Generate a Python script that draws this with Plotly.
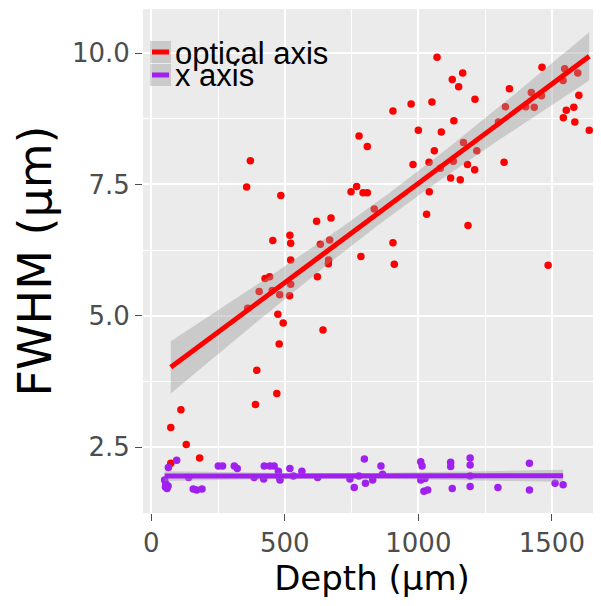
import numpy as np
import plotly.graph_objects as go

# ---------------- data ----------------
optical_depth = [73, 73, 111, 131, 181, 357, 371, 361, 390, 395, 404, 426, 443, 453, 455,
                 470, 474, 479, 481, 485, 494, 518, 519, 522, 522, 522, 619, 622, 633, 643,
                 663, 664, 668, 673, 748, 769, 778, 785, 793, 809, 809, 835, 905, 905, 910,
                 973, 980, 1000, 1031, 1040, 1041, 1051, 1060, 1070, 1082, 1086, 1121, 1127,
                 1131, 1133, 1151, 1157, 1166, 1169, 1184, 1186, 1211, 1212, 1219, 1300, 1321,
                 1326, 1341, 1402, 1423, 1434, 1461, 1463, 1486, 1542, 1543, 1548, 1554, 1582,
                 1586, 1597, 1601, 1640]
optical_fwhm = [2.87, 2.19, 3.21, 2.55, 2.29, 7.45, 7.95, 5.14, 3.31, 3.96, 5.46, 5.71, 5.74,
                5.48, 6.43, 3.52, 5.03, 4.46, 5.40, 7.29, 4.86, 5.38, 6.53, 6.38, 6.06, 5.60,
                6.80, 5.74, 6.36, 4.73, 5.99, 6.06, 6.44, 6.86, 7.36, 7.46, 8.42, 6.13, 7.34,
                7.34, 8.22, 7.03, 8.90, 6.39, 5.98, 9.03, 7.88, 8.53, 6.93, 7.92, 7.36, 9.07,
                8.14, 9.92, 7.81, 8.50, 7.62, 9.50, 7.94, 8.71, 9.36, 7.59, 9.62, 8.30, 7.88,
                6.72, 7.78, 9.12, 8.14, 8.69, 7.92, 8.98, 9.32, 8.98, 9.25, 8.97, 9.19, 9.73,
                5.96, 9.48, 8.77, 9.70, 8.91, 8.97, 8.69, 9.62, 9.20, 8.53]

xaxis_depth = [50, 54, 59, 63, 53, 64, 95, 140, 157, 170, 190, 251, 267, 311, 322, 385, 421,
               423, 444, 460, 476, 479, 482, 519, 532, 564, 623, 744, 760, 777, 798, 802, 829,
               860, 866, 1009, 1014, 1009, 1025, 1021, 1035, 1121, 1121, 1127, 1194, 1194,
               1194, 1194, 1298, 1416, 1416, 1512, 1542]
xaxis_fwhm = [1.87, 1.80, 1.71, 1.76, 1.74, 2.11, 2.25, 1.92, 1.70, 1.68, 1.70, 2.14, 2.14,
              2.14, 2.09, 1.92, 1.89, 2.14, 2.14, 2.14, 2.04, 1.93, 1.87, 2.09, 1.95, 2.04,
              1.92, 1.89, 1.73, 1.95, 2.27, 1.81, 1.87, 2.14, 1.98, 2.22, 2.14, 1.87, 1.90,
              1.66, 1.68, 2.21, 2.13, 1.71, 2.29, 2.16, 1.95, 1.75, 1.73, 2.19, 1.68, 1.81,
              1.78]

series_names = ["optical axis", "x axis"]
series_colors = ["#FF0000", "#A020F0"]

x_tick_vals = [0, 500, 1000, 1500]
x_tick_text = ["0", "500", "1000", "1500"]
y_tick_vals = [2.5, 5.0, 7.5, 10.0]
y_tick_text = ["2.5", "5.0", "7.5", "10.0"]


def lm_smooth(x, y, t_crit, n_grid=80):
    """Linear model fit with 95% confidence band (like ggplot's geom_smooth(method='lm'))."""
    x = np.asarray(x, float)
    y = np.asarray(y, float)
    n = len(x)
    slope, intercept = np.polyfit(x, y, 1)
    resid = y - (intercept + slope * x)
    s = np.sqrt(np.sum(resid ** 2) / (n - 2))
    xbar = x.mean()
    sxx = np.sum((x - xbar) ** 2)
    xs = np.linspace(x.min(), x.max(), n_grid)
    fit = intercept + slope * xs
    se = s * np.sqrt(1.0 / n + (xs - xbar) ** 2 / sxx)
    return xs, fit, fit - t_crit * se, fit + t_crit * se


fig = go.Figure()

datasets = [(optical_depth, optical_fwhm, 1.99), (xaxis_depth, xaxis_fwhm, 2.01)]

# points first
for (xd, yd, _), name, col in zip(datasets, series_names, series_colors):
    fig.add_trace(go.Scatter(x=xd, y=yd, mode="markers", name=name,
                             marker=dict(color=col, size=7.5, line=dict(width=0)),
                             showlegend=False))

# smooth: ribbon then line per group
for (xd, yd, tc), name, col in zip(datasets, series_names, series_colors):
    xs, fit, lo, hi = lm_smooth(xd, yd, tc)
    fig.add_trace(go.Scatter(x=np.concatenate([xs, xs[::-1]]),
                             y=np.concatenate([hi, lo[::-1]]),
                             mode="lines", fill="toself",
                             fillcolor="rgba(153,153,153,0.4)",
                             line=dict(width=0), hoverinfo="skip", showlegend=False))
    fig.add_trace(go.Scatter(x=xs, y=fit, mode="lines", name=name,
                             line=dict(color=col, width=5), showlegend=False))

# ---------------- geometry ----------------
# the page body has an 8px default margin, so the figure is drawn 8px in from the corner
OFF = 8
W, H = 593, 598
ML, MR, MT, MB = 135, 0, 1, 93
PW, PH = W - ML - MR, H - MT - MB


def px_x(sx):
    """screen x pixel -> paper coordinate"""
    return (sx - OFF - ML) / PW


def px_y(sy):
    """screen y pixel -> paper coordinate"""
    return (H - MB - (sy - OFF)) / PH


# ---------------- manual ggplot-like legend ----------------
shapes = []
annotations = []
key_rows = [(41, 63), (64, 86)]
for (top, bot), name, col in zip(key_rows, series_names, series_colors):
    shapes.append(dict(type="rect", xref="paper", yref="paper",
                       x0=px_x(150), x1=px_x(171), y0=px_y(bot), y1=px_y(top),
                       fillcolor="rgba(153,153,153,0.4)", line=dict(width=0), layer="above"))
    yc = (top + bot) / 2
    shapes.append(dict(type="line", xref="paper", yref="paper",
                       x0=px_x(152), x1=px_x(169), y0=px_y(yc), y1=px_y(yc),
                       line=dict(color=col, width=5), layer="above"))
    annotations.append(dict(text=name, xref="paper", yref="paper",
                            x=px_x(173), y=px_y(yc + 1), xanchor="left", yanchor="middle",
                            showarrow=False,
                            font=dict(family="Liberation Sans, Arial", size=31, color="black")))

fig.update_layout(
    width=W, height=H,
    margin=dict(l=ML, r=MR, t=MT, b=MB, autoexpand=False),
    paper_bgcolor="white",
    plot_bgcolor="#EBEBEB",
    showlegend=False,
    shapes=shapes,
    annotations=annotations,
    font=dict(family="DejaVu Sans", color="black"),
)

fig.update_xaxes(
    range=[-31, 1684], automargin=False,
    tickvals=x_tick_vals, ticktext=x_tick_text,
    tickfont=dict(family="DejaVu Sans", size=26, color="#4D4D4D"),
    ticks="outside", ticklen=7, tickcolor="#4D4D4D", tickwidth=1,
    showgrid=True, gridcolor="white", gridwidth=1.6,
    minor=dict(tickvals=[250, 750, 1250], showgrid=True, gridcolor="white", gridwidth=0.7, ticks=""),
    zeroline=False, showline=False,
    title=dict(text="Depth (μm)", font=dict(family="DejaVu Sans", size=34, color="black"),
               standoff=0),
)
fig.update_yaxes(
    range=[1.244, 10.84], automargin=False,
    tickvals=y_tick_vals, ticktext=y_tick_text,
    tickfont=dict(family="DejaVu Sans", size=26, color="#4D4D4D"),
    ticks="outside", ticklen=7, tickcolor="#4D4D4D", tickwidth=1,
    showgrid=True, gridcolor="white", gridwidth=1.6,
    minor=dict(tickvals=[3.75, 6.25, 8.75], showgrid=True, gridcolor="white", gridwidth=0.7, ticks=""),
    zeroline=False, showline=False,
    title=dict(text="FWHM (μm)", font=dict(family="DejaVu Sans", size=46, color="black"),
               standoff=6),
)

fig.write_html("out.html")
